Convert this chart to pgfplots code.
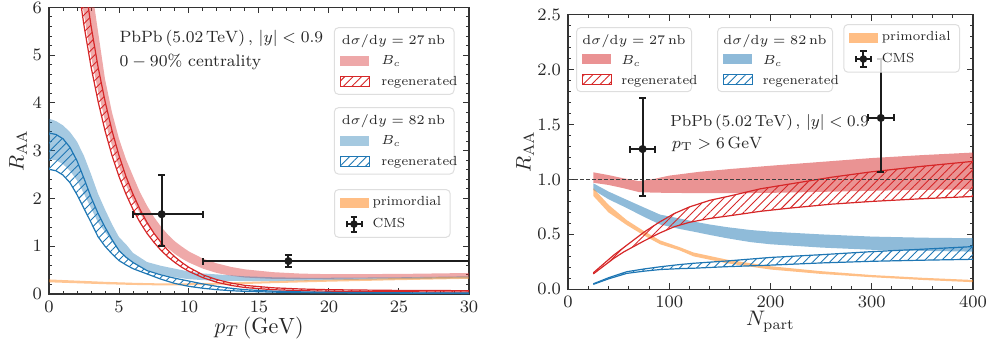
\RequirePackage{fix-cm}
\documentclass[border=0pt]{standalone}
\usepackage{pgfplots}
\pgfplotsset{compat=1.18}
\usepackage{pgfplotstable}
\usepgfplotslibrary{fillbetween}
\usetikzlibrary{patterns.meta}

\definecolor{tabred}{RGB}{214,39,40}
\definecolor{tabblue}{RGB}{31,119,180}
\definecolor{taborange}{RGB}{255,127,14}
\definecolor{txt}{RGB}{40,40,40}
\definecolor{cms}{RGB}{28,28,28}

% left panel: x, B_c lower, B_c upper, regen lower, regen upper (27 nb)
\pgfplotstableread{
x bl bu rl ru
2.0 6.85 9.15 6.62 7.81
2.5 5.845 7.71 5.62 6.62
3.0 4.98 6.5 4.76 5.62
3.5 4.255 5.5 4.04 4.76
4.0 3.63 4.5 3.42 4.04
4.5 3.105 3.8 2.90 3.42
5.0 2.66 3.25 2.46 2.90
5.5 2.285 2.82 2.09 2.46
6.0 1.96 2.47 1.77 2.09
6.5 1.687 2.13 1.50 1.77
7.0 1.455 1.85 1.27 1.50
7.5 1.263 1.61 1.08 1.27
8.0 1.094 1.41 0.914 1.08
8.5 0.955 1.24 0.775 0.914
9.0 0.837 1.10 0.657 0.775
9.5 0.739 0.99 0.557 0.657
10 0.658 0.89 0.473 0.557
11 0.53 0.74 0.34 0.40
12 0.439 0.64 0.244 0.30
13 0.382 0.567 0.18 0.23
14 0.345 0.516 0.135 0.18
16 0.317 0.457 0.09 0.13
18 0.313 0.427 0.07 0.105
20 0.318 0.415 0.058 0.09
25 0.337 0.42 0.047 0.075
30 0.355 0.44 0.04 0.07
}\redL
% left panel (82 nb)
\pgfplotstableread{
x bl bu rl ru
0 2.82 3.67 2.61 3.37
0.5 2.80 3.62 2.58 3.34
1 2.72 3.53 2.49 3.25
1.5 2.58 3.39 2.33 3.07
2 2.38 3.19 2.08 2.79
2.5 2.10 2.89 1.79 2.42
3 1.80 2.51 1.50 2.03
3.5 1.50 2.10 1.20 1.69
4 1.30 1.77 1.00 1.40
4.5 1.10 1.46 0.84 1.14
5 0.90 1.19 0.70 0.91
5.5 0.78 1.04 0.61 0.77
6 0.66 0.86 0.53 0.66
7 0.50 0.67 0.42 0.49
8 0.41 0.59 0.31 0.40
9 0.35 0.53 0.22 0.33
10 0.31 0.47 0.16 0.27
11 0.29 0.43 0.12 0.21
12 0.28 0.41 0.09 0.16
13 0.275 0.39 0.07 0.12
14 0.27 0.37 0.055 0.09
16 0.27 0.35 0.04 0.06
18 0.28 0.34 0.03 0.045
20 0.29 0.34 0.025 0.035
25 0.31 0.35 0.018 0.025
30 0.33 0.37 0.012 0.02
}\blueL
\pgfplotstableread{
x lo hi
0 0.245 0.305
2 0.225 0.28
4 0.205 0.255
6 0.19 0.235
8 0.18 0.222
10 0.183 0.225
12 0.195 0.237
14 0.21 0.252
17 0.235 0.278
20 0.258 0.302
25 0.29 0.335
30 0.318 0.365
}\primL
% right panel
\pgfplotstableread{
x bl bu
25 0.97 1.065
40 0.95 1.04
55 0.92 1.01
70 0.885 0.985
85 0.88 1.005
100 0.878 1.035
130 0.875 1.07
160 0.875 1.095
200 0.878 1.125
250 0.887 1.16
300 0.897 1.195
350 0.905 1.222
400 0.91 1.245
}\redRb
\pgfplotstableread{
x rl ru
25 0.14 0.15
35 0.21 0.23
45 0.28 0.31
55 0.34 0.38
65 0.39 0.45
75 0.44 0.52
90 0.51 0.61
105 0.57 0.69
120 0.61 0.75
140 0.645 0.81
160 0.67 0.85
190 0.71 0.915
220 0.74 0.96
260 0.775 1.02
300 0.80 1.07
350 0.825 1.12
400 0.845 1.165
}\redRr
\pgfplotstableread{
x bl bu
25 0.905 0.965
40 0.82 0.89
58 0.74 0.815
75 0.66 0.745
91 0.59 0.68
110 0.55 0.645
124 0.525 0.617
140 0.495 0.59
157 0.465 0.566
180 0.43 0.54
200 0.41 0.525
250 0.38 0.50
300 0.36 0.48
350 0.35 0.47
400 0.343 0.465
}\blueRb
\pgfplotstableread{
x rl ru
25 0.045 0.05
40 0.095 0.105
58 0.145 0.16
75 0.165 0.185
91 0.18 0.205
110 0.188 0.225
124 0.192 0.237
157 0.206 0.258
200 0.22 0.29
250 0.24 0.315
300 0.255 0.343
350 0.265 0.365
400 0.273 0.389
}\blueRr
\pgfplotstableread{
x lo hi
25 0.85 0.92
40 0.70 0.77
58 0.585 0.63
75 0.49 0.53
91 0.41 0.445
110 0.355 0.385
124 0.30 0.335
157 0.237 0.27
200 0.18 0.21
250 0.14 0.165
300 0.11 0.13
350 0.085 0.105
400 0.065 0.085
}\primR

\tikzset{
  hatchred/.style={pattern={Lines[angle=45,distance=3pt,line width=0.45pt]}, pattern color=tabred},
  hatchblue/.style={pattern={Lines[angle=45,distance=3pt,line width=0.45pt]}, pattern color=tabblue},
}
\pgfplotsset{
  myaxis/.style={
    scale only axis, anchor=south west, clip=true,
    axis line style={black!80, line width=0.6pt},
    tick style={black!80, line width=0.5pt},
    major tick length=3pt, minor tick length=1.6pt,
    tick align=inside,
    tick label style={font=\fontsize{8.7}{10}\selectfont, text=txt},
    label style={text=txt},
    legend cell align=left,
    legend style={draw=black!13, line width=0.5pt, fill=white, fill opacity=0.8, text opacity=1,
      rounded corners=2pt, font=\fontsize{6.6}{7.8}\selectfont, text=txt,
      inner xsep=2.5pt, inner ysep=1.5pt, row sep=0.6pt},
  },
  cmsstyle/.style={only marks, mark=*, mark size=1.8pt, color=cms, forget plot,
    error bars/.cd, x dir=both, x explicit, y dir=both, y explicit,
    error bar style={line width=1pt, cms},
    error mark options={rotate=90, line width=1pt, mark size=1.75pt, cms}},
  primimg/.style={legend image code/.code={\path[draw=none, sharp corners, fill=taborange, fill opacity=0.5] (0pt,-2.5pt) rectangle (14.5pt,2.5pt);}},
  cmsimg/.style={legend image code/.code={
      \path[draw=cms, fill=none, sharp corners, line width=1pt, draw opacity=1] (3.5pt,0pt) -- (11pt,0pt) (7.25pt,-3.8pt) -- (7.25pt,3.8pt)
         (3.5pt,-1.6pt) -- (3.5pt,1.6pt) (11pt,-1.6pt) -- (11pt,1.6pt)
         (5.6pt,-3.8pt) -- (8.9pt,-3.8pt) (5.6pt,3.8pt) -- (8.9pt,3.8pt);
      \path[draw=none, fill=cms, fill opacity=1] (7.25pt,0pt) circle (1.9pt);}},
}

\begin{document}
\begin{tikzpicture}

% ================= LEFT PANEL =================
\begin{axis}[myaxis, at={(24.5pt,25.5pt)}, width=210pt, height=143.3pt,
  xmin=0, xmax=30, ymin=0, ymax=6,
  xtick={0,5,10,15,20,25,30}, ytick={0,1,2,3,4,5,6},
  minor x tick num=4, minor y tick num=4,
  xlabel={$p_T\,(\mathrm{GeV})$}, ylabel={$R_{\mathrm{AA}}$},
  xlabel style={font=\fontsize{11}{13}\selectfont, at={(axis description cs:0.5,-0.1186)}, anchor=center},
  ylabel style={font=\fontsize{10.5}{12}\selectfont, at={(axis description cs:-0.0738,0.5)}, anchor=center},
  legend style={at={(0.6786,0.366)}, anchor=north west},
]
\addplot[draw=none, name path=RBL, forget plot] table[x=x,y=bl]{\redL};
\addplot[draw=none, name path=RBU, forget plot] table[x=x,y=bu]{\redL};
\addplot[draw=none, name path=RRL, forget plot] table[x=x,y=rl]{\redL};
\addplot[draw=none, name path=RRU, forget plot] table[x=x,y=ru]{\redL};
\addplot[draw=none, name path=BBL, forget plot] table[x=x,y=bl]{\blueL};
\addplot[draw=none, name path=BBU, forget plot] table[x=x,y=bu]{\blueL};
\addplot[draw=none, name path=BRL, forget plot] table[x=x,y=rl]{\blueL};
\addplot[draw=none, name path=BRU, forget plot] table[x=x,y=ru]{\blueL};
\addplot[draw=none, name path=PL, forget plot] table[x=x,y=lo]{\primL};
\addplot[draw=none, name path=PH, forget plot] table[x=x,y=hi]{\primL};

\addplot[fill=tabred, fill opacity=0.4, draw=none, forget plot] fill between[of=RBU and RBL];
\addplot[fill=tabblue, fill opacity=0.4, draw=none, forget plot] fill between[of=BBU and BBL];
\addplot[fill=taborange, fill opacity=0.45, draw=none, forget plot] fill between[of=PH and PL];
\addplot[hatchred, draw=none, forget plot] fill between[of=RRU and RRL];
\addplot[hatchblue, draw=none, forget plot] fill between[of=BRU and BRL];
\addplot[tabred, line width=0.6pt, forget plot] table[x=x,y=rl]{\redL};
\addplot[tabred, line width=0.6pt, forget plot] table[x=x,y=ru]{\redL};
\addplot[tabblue, line width=0.6pt, forget plot] table[x=x,y=rl]{\blueL};
\addplot[tabblue, line width=0.6pt, forget plot] table[x=x,y=ru]{\blueL};

\addplot[cmsstyle] coordinates {(8.05,1.67) += (2.95,0.83) -= (2.05,0.66)
  (17.1,0.69) += (12.9,0.125) -= (6.1,0.12)};

\addlegendimage{primimg}
\addlegendentry{primordial}
\addlegendimage{cmsimg}
\addlegendentry{CMS}
\end{axis}

% ================= RIGHT PANEL =================
\begin{axis}[myaxis, at={(284pt,27.85pt)}, width=202.5pt, height=137.3pt,
  xmin=0, xmax=400, ymin=0, ymax=2.5,
  xtick={0,100,200,300,400}, ytick={0,0.5,1,1.5,2,2.5},
  minor x tick num=4, minor y tick num=4,
  yticklabel style={/pgf/number format/.cd, fixed, fixed zerofill, precision=1},
  xlabel={$N_{\mathrm{part}}$}, ylabel={$R_{\mathrm{AA}}$},
  xlabel style={font=\fontsize{10.5}{12}\selectfont, at={(axis description cs:0.5,-0.118)}, anchor=center},
  ylabel style={font=\fontsize{10.5}{12}\selectfont, at={(axis description cs:-0.106,0.5)}, anchor=center},
  legend style={at={(0.68,0.966)}, anchor=north west},
]
\addplot[draw=none, name path=RBL, forget plot] table[x=x,y=bl]{\redRb};
\addplot[draw=none, name path=RBU, forget plot] table[x=x,y=bu]{\redRb};
\addplot[draw=none, name path=RRL, forget plot] table[x=x,y=rl]{\redRr};
\addplot[draw=none, name path=RRU, forget plot] table[x=x,y=ru]{\redRr};
\addplot[draw=none, name path=BBL, forget plot] table[x=x,y=bl]{\blueRb};
\addplot[draw=none, name path=BBU, forget plot] table[x=x,y=bu]{\blueRb};
\addplot[draw=none, name path=BRL, forget plot] table[x=x,y=rl]{\blueRr};
\addplot[draw=none, name path=BRU, forget plot] table[x=x,y=ru]{\blueRr};
\addplot[draw=none, name path=PL, forget plot] table[x=x,y=lo]{\primR};
\addplot[draw=none, name path=PH, forget plot] table[x=x,y=hi]{\primR};

\addplot[fill=tabred, fill opacity=0.5, draw=none, forget plot] fill between[of=RBU and RBL];
\addplot[fill=tabblue, fill opacity=0.5, draw=none, forget plot] fill between[of=BBU and BBL];
\addplot[fill=taborange, fill opacity=0.5, draw=none, forget plot] fill between[of=PH and PL];
\addplot[hatchred, draw=none, forget plot] fill between[of=RRU and RRL];
\addplot[hatchblue, draw=none, forget plot] fill between[of=BRU and BRL];
\addplot[tabred, line width=0.6pt, forget plot] table[x=x,y=rl]{\redRr};
\addplot[tabred, line width=0.6pt, forget plot] table[x=x,y=ru]{\redRr};
\addplot[tabblue, line width=0.6pt, forget plot] table[x=x,y=rl]{\blueRr};
\addplot[tabblue, line width=0.6pt, forget plot] table[x=x,y=ru]{\blueRr};

\addplot[black!75, line width=0.5pt, dash pattern=on 1.8pt off 1.2pt, forget plot] coordinates {(0,1) (400,1)};

\addplot[cmsstyle] coordinates {(73.7,1.277) += (12.5,0.462) -= (12.5,0.432)
  (309,1.56) += (12.7,0.538) -= (12.7,0.496)};

\addlegendimage{primimg}
\addlegendentry{primordial}
\addlegendimage{cmsimg}
\addlegendentry{CMS}
\end{axis}

% ================= annotations =================
\begin{scope}[every node/.style={inner sep=0pt, text=txt}]
\node[anchor=base west, font=\fontsize{8.2}{10}\selectfont] at (59.6pt,151.15pt)
  {$\mathrm{PbPb}\,(5.02\,\mathrm{TeV})\,,\,|y|<0.9$};
\node[anchor=base west, font=\fontsize{8.3}{10}\selectfont] at (59.6pt,139.5pt)
  {$0-90\%$ centrality};
\node[anchor=base west, font=\fontsize{8.0}{10}\selectfont] at (335pt,109.5pt)
  {$\mathrm{PbPb}\,(5.02\,\mathrm{TeV})\,,\,|y|<0.9$};
\node[anchor=base west, font=\fontsize{8.2}{10}\selectfont] at (335.8pt,98.3pt)
  {$p_{\mathrm{T}}>6\,\mathrm{GeV}$};
\end{scope}

% ================= legend boxes (left) =================
\begin{scope}[every node/.style={inner sep=0pt, text=txt, font=\fontsize{6.6}{7.8}\selectfont}]
\draw[black!13, line width=0.5pt, rounded corners=2pt, fill=white, fill opacity=0.8] (167.2pt,125.35pt) rectangle (227pt,158.65pt);
\node[anchor=base] at (196.7pt,150.3pt) {$\mathrm{d}\sigma/\mathrm{d}y=27\,\mathrm{nb}$};
\fill[tabred, fill opacity=0.4] (170pt,139.65pt) rectangle (184.7pt,144.65pt);
\node[anchor=base west] at (190.5pt,140.3pt) {$B_c$};
\draw[tabred, line width=0.5pt, hatchred] (170pt,129.5pt) rectangle (184.7pt,134.5pt);
\node[anchor=base west] at (190.5pt,130pt) {regenerated};

\draw[black!13, line width=0.5pt, rounded corners=2pt, fill=white, fill opacity=0.8] (167.2pt,85.5pt) rectangle (227pt,118.65pt);
\node[anchor=base] at (196.7pt,110.3pt) {$\mathrm{d}\sigma/\mathrm{d}y=82\,\mathrm{nb}$};
\fill[tabblue, fill opacity=0.4] (170pt,99.65pt) rectangle (184.7pt,104.65pt);
\node[anchor=base west] at (190.5pt,100.3pt) {$B_c$};
\draw[tabblue, line width=0.5pt, hatchblue] (170pt,89.5pt) rectangle (184.7pt,94.5pt);
\node[anchor=base west] at (190.5pt,90pt) {regenerated};

% ================= legend boxes (right) =================
\draw[black!13, line width=0.5pt, rounded corners=2pt, fill=white, fill opacity=0.8] (288.3pt,126.7pt) rectangle (345.8pt,158.65pt);
\node[anchor=base] at (317pt,150.3pt) {$\mathrm{d}\sigma/\mathrm{d}y=27\,\mathrm{nb}$};
\fill[tabred, fill opacity=0.5] (291pt,140.5pt) rectangle (305.5pt,145.5pt);
\node[anchor=base west] at (310.5pt,140.3pt) {$B_c$};
\draw[tabred, line width=0.5pt, hatchred] (291pt,130.5pt) rectangle (305.5pt,135.5pt);
\node[anchor=base west] at (310.5pt,130.5pt) {regenerated};

\draw[black!13, line width=0.5pt, rounded corners=2pt, fill=white, fill opacity=0.8] (358.8pt,126.7pt) rectangle (416.3pt,158.65pt);
\node[anchor=base] at (387.5pt,150.3pt) {$\mathrm{d}\sigma/\mathrm{d}y=82\,\mathrm{nb}$};
\fill[tabblue, fill opacity=0.5] (361.5pt,140.5pt) rectangle (376pt,145.5pt);
\node[anchor=base west] at (381.2pt,140.3pt) {$B_c$};
\draw[tabblue, line width=0.5pt, hatchblue] (361.5pt,130.5pt) rectangle (376pt,135.5pt);
\node[anchor=base west] at (381.2pt,130.5pt) {regenerated};
\end{scope}

\pgfresetboundingbox
\useasboundingbox (0,0) rectangle (496.5pt,172.5pt);
\end{tikzpicture}
\end{document}
